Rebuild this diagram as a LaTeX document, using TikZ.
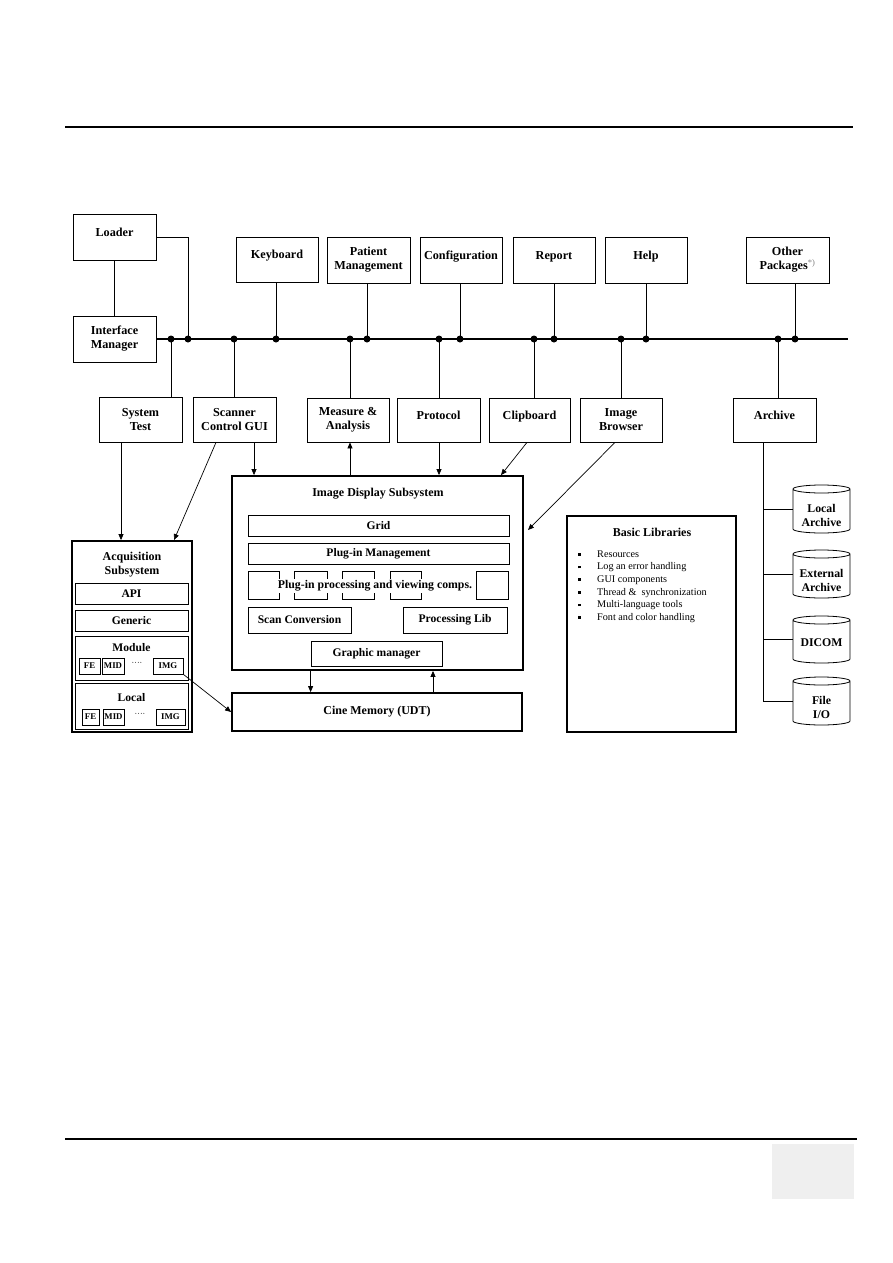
\documentclass[tikz,border=0pt]{standalone}
\usepackage{fontspec}
\setmainfont{Liberation Serif}
\usetikzlibrary{arrows.meta}
\definecolor{footgray}{HTML}{EFEFEF}
\newcommand\bulmark{\makebox[19pt][l]{\rule[1.6pt]{2.6pt}{2.6pt}}}
\newcommand\drawcyl[1]{%
  \draw[line width=0.8pt] ([yshift=-4pt]#1.north west) -- ([yshift=4pt]#1.south west)
    arc[start angle=180, end angle=360, x radius=28.5pt, y radius=4pt]
    -- ([yshift=-4pt]#1.north east)
    arc[start angle=0, end angle=180, x radius=28.5pt, y radius=4pt]
    arc[start angle=180, end angle=360, x radius=28.5pt, y radius=4pt];}
\begin{document}
\begin{tikzpicture}[x=1pt,y=-1pt,
  box/.style={draw, line width=0.8pt, inner sep=1pt, align=center,
    font=\bfseries\fontsize{12.2}{14}\selectfont},
  oneline/.style={text height=8.5pt, text depth=10.5pt},
  thickbox/.style={draw, line width=1.8pt, inner sep=0pt},
  inbox/.style={draw, line width=0.8pt, inner sep=0pt, align=center,
    font=\bfseries\fontsize{11.6}{13}\selectfont},
  smallbox/.style={draw, line width=0.7pt, inner sep=0pt,
    font=\bfseries\fontsize{8.8}{9}\selectfont},
  ttl/.style={inner sep=0pt, align=center, font=\bfseries\fontsize{12}{14}\selectfont},
  wire/.style={line width=0.8pt},
  arr/.style={line width=0.7pt, -{Triangle[length=6pt,width=5pt]}},
  dot/.style={circle, fill=black, inner sep=0pt, minimum size=7pt},
  db/.style={inner sep=0pt, outer sep=0pt, minimum width=57},
  dbt/.style={inner sep=0pt, align=center, font=\bfseries\fontsize{11.8}{14}\selectfont}
]
\useasboundingbox (0,0) rectangle (893,1263);

% header and footer
\draw[line width=1.2pt] (65,127) -- (853,127);
\draw[line width=1.2pt] (65,1139) -- (857,1139);
\fill[footgray] (772,1144) rectangle (854,1199);

% top row
\node[box, oneline, minimum width=83, minimum height=46] (loader) at (114.5,237) {Loader};
\node[box, minimum width=83, minimum height=46] (im) at (114.5,339) {Interface\\Manager};
\node[box, oneline, minimum width=82, minimum height=45] (kb) at (277,259.5) {Keyboard};
\node[box, minimum width=83, minimum height=46] (pm) at (368.5,260) {Patient\\Management};
\node[box, oneline, minimum width=82, minimum height=46] (cfg) at (461,260) {Configuration};
\node[box, oneline, minimum width=82, minimum height=46] (rep) at (554,260) {Report};
\node[box, oneline, minimum width=82, minimum height=46] (help) at (646,260) {Help};
\node[box, minimum width=83, minimum height=46] (oth) at (787.5,260) {Other\\Packages\textsuperscript{\normalfont\color{gray}*)}};

% second row
\node[box, minimum width=83, minimum height=45] (sys) at (140.5,419.5) {System\\Test};
\node[box, minimum width=83, minimum height=45] (scg) at (234.5,419.5) {Scanner\\Control GUI};
\node[box, minimum width=82, minimum height=44] (mea) at (348,420) {Measure \&\\Analysis};
\node[box, oneline, minimum width=83, minimum height=44] (pro) at (438.5,420) {Protocol};
\node[box, oneline, minimum width=81, minimum height=44] (clip) at (529.5,420) {Clipboard};
\node[box, minimum width=82, minimum height=44] (ib) at (621,420) {Image\\Browser};
\node[box, oneline, minimum width=83, minimum height=44] (arch) at (774.5,420) {Archive};

% bus
\coordinate (busend) at (848,339);
\draw[line width=2.2pt] (im.east) -- (busend);
\coordinate (jst) at (171,339);
\coordinate (jld) at (188,339);
\coordinate (jsc) at (234,339);
\coordinate (jkb) at (276,339);
\coordinate (jme) at (350,339);
\coordinate (jpm) at (367,339);
\coordinate (jpr) at (439,339);
\coordinate (jcf) at (460,339);
\coordinate (jcl) at (534,339);
\coordinate (jre) at (554,339);
\coordinate (jib) at (621,339);
\coordinate (jhe) at (646,339);
\coordinate (jar) at (778,339);
\coordinate (jot) at (795,339);

\draw[wire] (loader) -- (im);
\draw[wire] (loader.east) -| (jld);
\draw[wire] (jkb) -- (jkb |- kb.south);
\draw[wire] (jpm) -- (jpm |- pm.south);
\draw[wire] (jcf) -- (jcf |- cfg.south);
\draw[wire] (jre) -- (jre |- rep.south);
\draw[wire] (jhe) -- (jhe |- help.south);
\draw[wire] (jot) -- (jot |- oth.south);
\draw[wire] (jst) -- (jst |- sys.north);
\draw[wire] (jsc) -- (jsc |- scg.north);
\draw[wire] (jme) -- (jme |- mea.north);
\draw[wire] (jpr) -- (jpr |- pro.north);
\draw[wire] (jcl) -- (jcl |- clip.north);
\draw[wire] (jib) -- (jib |- ib.north);
\draw[wire] (jar) -- (jar |- arch.north);
\foreach \j in {jst,jld,jsc,jkb,jme,jpm,jpr,jcf,jcl,jre,jib,jhe,jar,jot}
  \node[dot] (d\j) at (\j) {};

% Image Display Subsystem
\node[thickbox, minimum width=291, minimum height=194] (ids) at (377.5,573) {};
\node[ttl] (idst) at (378,494) {Image Display Subsystem};
\node[inbox, minimum width=261, minimum height=21] (grid) at (378.5,525.5) {Grid};
\node[inbox, minimum width=261, minimum height=21] (pim) at (378.5,553.5) {Plug-in Management};
\node[inbox, minimum width=31, minimum height=28] (pc1) at (263.5,585) {};
\node[inbox, minimum width=33, minimum height=28] (pc2) at (310.5,585) {};
\node[inbox, minimum width=32, minimum height=28] (pc3) at (358,585) {};
\node[inbox, minimum width=31, minimum height=28] (pc4) at (405.5,585) {};
\node[inbox, minimum width=32, minimum height=28] (pc5) at (492,585) {};
\node[fill=white, inner sep=0pt, minimum width=201, minimum height=14, font=\bfseries\fontsize{11.8}{13}\selectfont] (pct) at (375,586) {Plug-in processing and viewing comps.};
\node[inbox, minimum width=103, minimum height=26] (scan) at (299.5,620) {Scan Conversion};
\node[inbox, minimum width=104, minimum height=26] (plib) at (455,620) {Processing Lib};
\node[inbox, minimum width=131, minimum height=25] (gm) at (376.5,653.5) {Graphic manager};

% Cine memory
\node[thickbox, minimum width=290, minimum height=38, font=\bfseries\fontsize{12}{14}\selectfont] (cine) at (377,712) {Cine Memory (UDT)};

% Acquisition subsystem
\node[thickbox, minimum width=120, minimum height=191] (acq) at (132,636.5) {};
\node[ttl] (acqt) at (132,565) {Acquisition\\Subsystem};
\node[inbox, minimum width=113, minimum height=21] (api) at (131.5,593.5) {API};
\node[inbox, minimum width=113, minimum height=21] (gen) at (131.5,620.5) {Generic};
\node[inbox, minimum width=113, minimum height=44] (mod) at (131.5,658) {};
\node[ttl, font=\bfseries\fontsize{11.6}{13}\selectfont] (modt) at (131.5,648) {Module};
\node[smallbox, minimum width=21, minimum height=16] (mfe) at (89.5,666) {FE};
\node[smallbox, minimum width=22, minimum height=16] (mmid) at (113,666) {MID};
\node[inner sep=0pt, font=\fontsize{8}{9}\selectfont] (mdots) at (137,664) {····};
\node[smallbox, minimum width=30, minimum height=16] (mimg) at (168,666) {IMG};
\node[inbox, minimum width=113, minimum height=46] (loc) at (131.5,706) {};
\node[ttl, font=\bfseries\fontsize{11.6}{13}\selectfont] (loct) at (131.5,698) {Local};
\node[smallbox, minimum width=17, minimum height=16] (lfe) at (90.5,717) {FE};
\node[smallbox, minimum width=21, minimum height=16] (lmid) at (113.5,717) {MID};
\node[inner sep=0pt, font=\fontsize{8}{9}\selectfont] (ldots) at (140,715) {····};
\node[smallbox, minimum width=29, minimum height=16] (limg) at (170.5,717) {IMG};

% Basic libraries
\node[thickbox, minimum width=169, minimum height=216] (basic) at (651.5,624) {};
\node[ttl] (basict) at (652,532) {Basic Libraries};
\node[anchor=north west, align=left, inner sep=0pt, font=\fontsize{10.2}{12.6}\selectfont] (blist) at (578,550.5)
  {\bulmark Resources\\
   \bulmark Log an error handling\\
   \bulmark GUI components\\
   \bulmark Thread \&\ \ synchronization\\
   \bulmark Multi-language tools\\
   \bulmark Font and color handling};

% Archive storages
\node[db, minimum height=48] (la) at (821.5,509) {};
\node[db, minimum height=48] (ea) at (821.5,574) {};
\node[db, minimum height=47] (dic) at (821.5,639.5) {};
\node[db, minimum height=48] (fio) at (821.5,701) {};
\drawcyl{la}
\drawcyl{ea}
\drawcyl{dic}
\drawcyl{fio}
\node[dbt] (lat) at (821.5,515.5) {Local\\Archive};
\node[dbt] (eat) at (821.5,580.5) {External\\Archive};
\node[dbt] (dict) at (821.5,643) {DICOM};
\node[dbt] (fiot) at (821.5,707.5) {File\\I/O};
\draw[wire] ([xshift=-11.5]arch.south) |- (fio.west);
\draw[wire] ([xshift=-11.5]arch.south) |- (la.west);
\draw[wire] ([xshift=-11.5]arch.south) |- (ea.west);
\draw[wire] ([xshift=-11.5]arch.south) |- (dic.west);

% arrows
\draw[arr] ([xshift=-19.5]sys.south) -- ([xshift=-19.5]sys.south |- acq.north);
\draw[arr] ([xshift=-18.5]scg.south) -- ([xshift=42]acq.north);
\draw[arr] ([xshift=19.5]scg.south) -- ([xshift=19.5]scg.south |- ids.north);
\draw[arr] (jme |- ids.north) -- (jme |- mea.south);
\draw[arr] (jpr |- pro.south) -- (jpr |- ids.north);
\draw[arr] ([xshift=-2.5]clip.south) -- ([xshift=123.5]ids.north);
\coordinate (ibend) at (528,530);
\draw[arr] ([xshift=-6]ib.south) -- (ibend);
\draw[arr] (mimg.south east) -- (cine.west);
\draw[arr] (gm.west |- ids.south) -- (gm.west |- cine.north);
\draw[arr] ([xshift=56.5]gm.south |- cine.north) -- ([xshift=56.5]gm.south |- ids.south);
\end{tikzpicture}
\end{document}
